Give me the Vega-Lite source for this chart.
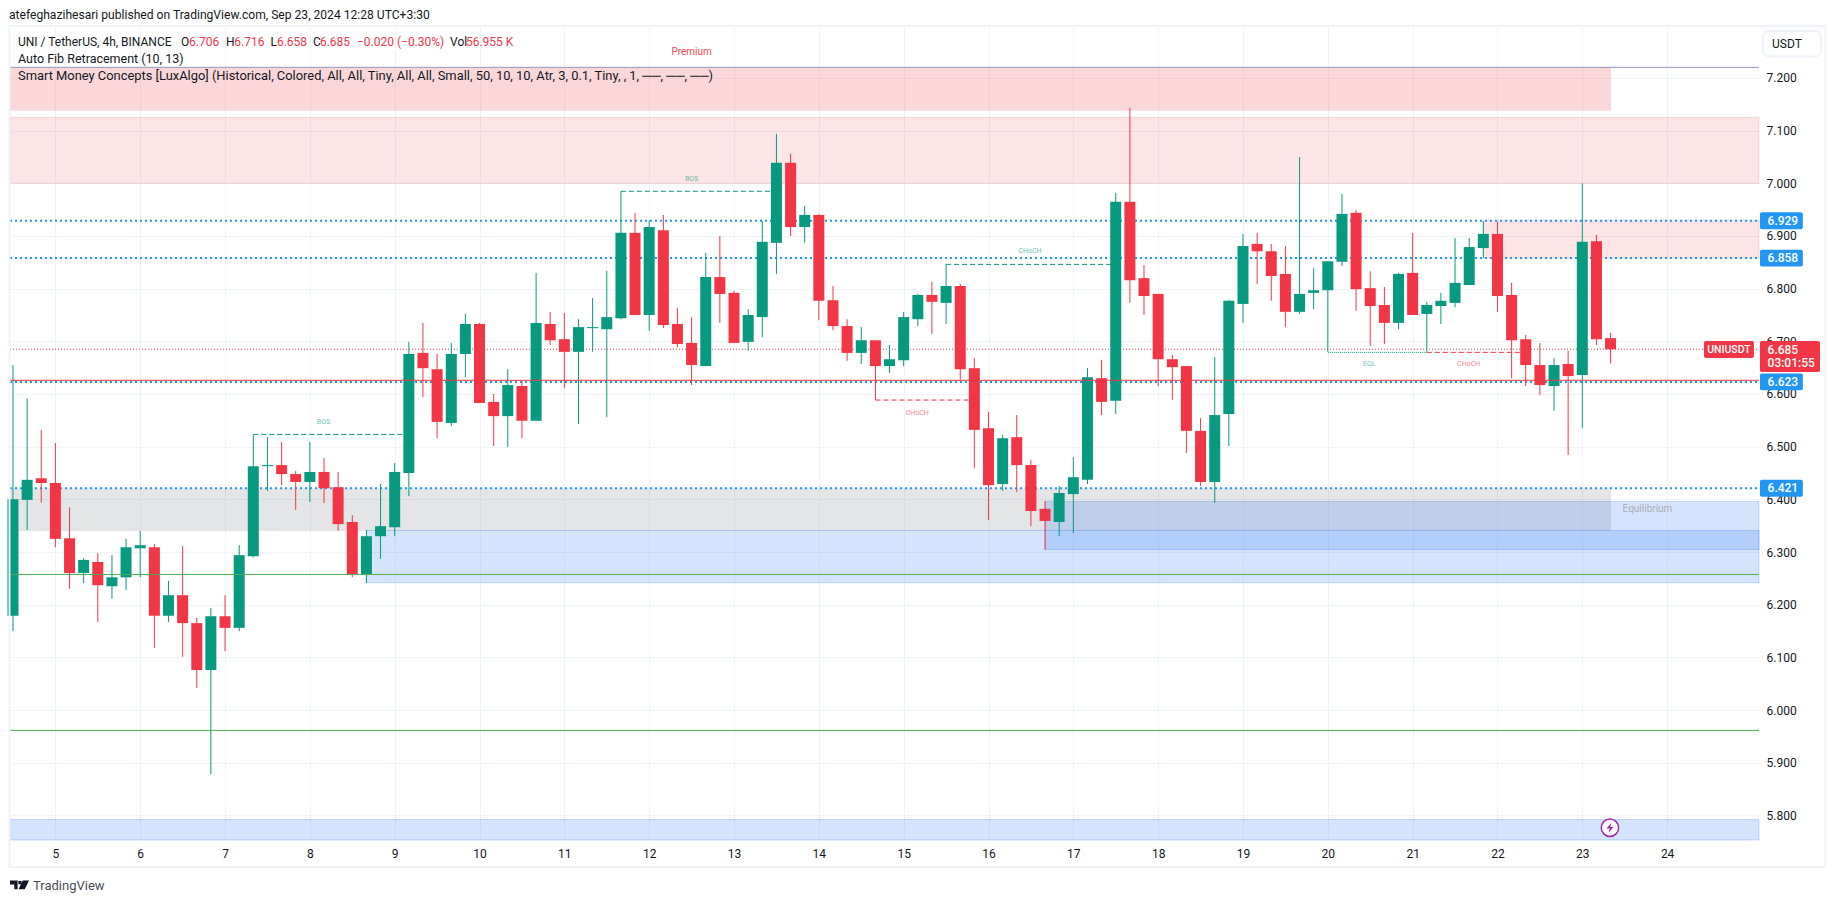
{"$schema":"https://vega.github.io/schema/vega-lite/v6.json","width":1749,"height":813,"autosize":{"type":"none"},"padding":{"left":10,"top":27,"right":76,"bottom":63},"background":"#ffffff","config":{"view":{"stroke":null},"font":"Roboto"},
"resolve":{"scale":{"color":"independent","fill":"independent","stroke":"independent"}},
"datasets":{
"candles":[
{"t":4.5,"o":6.179,"h":6.655,"l":6.15,"c":6.4,"side":"up"},{"t":4.667,"o":6.399,"h":6.592,"l":6.342,"c":6.437,"side":"up"},{"t":4.833,"o":6.44,"h":6.532,"l":6.394,"c":6.431,"side":"down"},{"t":5,"o":6.431,"h":6.507,"l":6.309,"c":6.325,"side":"down"},{"t":5.167,"o":6.326,"h":6.385,"l":6.23,"c":6.26,"side":"down"},{"t":5.333,"o":6.26,"h":6.288,"l":6.241,"c":6.285,"side":"up"},{"t":5.5,"o":6.281,"h":6.298,"l":6.167,"c":6.237,"side":"down"},{"t":5.667,"o":6.235,"h":6.294,"l":6.211,"c":6.252,"side":"up"},{"t":5.833,"o":6.252,"h":6.325,"l":6.228,"c":6.309,"side":"up"},{"t":6,"o":6.307,"h":6.34,"l":6.252,"c":6.313,"side":"up"},
{"t":6.167,"o":6.309,"h":6.315,"l":6.118,"c":6.179,"side":"down"},{"t":6.333,"o":6.179,"h":6.245,"l":6.167,"c":6.218,"side":"up"},{"t":6.5,"o":6.218,"h":6.311,"l":6.101,"c":6.165,"side":"down"},{"t":6.667,"o":6.165,"h":6.175,"l":6.042,"c":6.076,"side":"down"},{"t":6.833,"o":6.076,"h":6.194,"l":5.878,"c":6.178,"side":"up"},{"t":7,"o":6.178,"h":6.218,"l":6.112,"c":6.156,"side":"down"},{"t":7.167,"o":6.156,"h":6.313,"l":6.15,"c":6.294,"side":"up"},{"t":7.333,"o":6.292,"h":6.523,"l":6.29,"c":6.463,"side":"up"},{"t":7.5,"o":6.463,"h":6.518,"l":6.416,"c":6.465,"side":"up"},{"t":7.667,"o":6.465,"h":6.509,"l":6.427,"c":6.448,"side":"down"},
{"t":7.833,"o":6.448,"h":6.454,"l":6.38,"c":6.433,"side":"down"},{"t":8,"o":6.433,"h":6.509,"l":6.395,"c":6.452,"side":"up"},{"t":8.167,"o":6.452,"h":6.478,"l":6.393,"c":6.421,"side":"down"},{"t":8.333,"o":6.423,"h":6.452,"l":6.34,"c":6.353,"side":"down"},{"t":8.5,"o":6.357,"h":6.37,"l":6.252,"c":6.258,"side":"down"},{"t":8.667,"o":6.258,"h":6.342,"l":6.241,"c":6.33,"side":"up"},{"t":8.833,"o":6.33,"h":6.429,"l":6.287,"c":6.349,"side":"up"},{"t":9,"o":6.347,"h":6.469,"l":6.33,"c":6.452,"side":"up"},{"t":9.167,"o":6.45,"h":6.699,"l":6.406,"c":6.676,"side":"up"},{"t":9.333,"o":6.678,"h":6.735,"l":6.594,"c":6.649,"side":"down"},
{"t":9.5,"o":6.647,"h":6.676,"l":6.516,"c":6.547,"side":"down"},{"t":9.667,"o":6.545,"h":6.697,"l":6.539,"c":6.676,"side":"up"},{"t":9.833,"o":6.676,"h":6.752,"l":6.632,"c":6.733,"side":"up"},{"t":10,"o":6.733,"h":6.735,"l":6.583,"c":6.583,"side":"down"},{"t":10.167,"o":6.585,"h":6.6,"l":6.501,"c":6.558,"side":"down"},{"t":10.333,"o":6.558,"h":6.647,"l":6.499,"c":6.617,"side":"up"},{"t":10.5,"o":6.615,"h":6.625,"l":6.516,"c":6.549,"side":"down"},{"t":10.667,"o":6.549,"h":6.83,"l":6.549,"c":6.735,"side":"up"},{"t":10.833,"o":6.733,"h":6.756,"l":6.693,"c":6.702,"side":"down"},{"t":11,"o":6.704,"h":6.754,"l":6.611,"c":6.68,"side":"down"},
{"t":11.167,"o":6.68,"h":6.742,"l":6.543,"c":6.727,"side":"up"},{"t":11.333,"o":6.725,"h":6.782,"l":6.68,"c":6.727,"side":"up"},{"t":11.5,"o":6.723,"h":6.834,"l":6.556,"c":6.746,"side":"up"},{"t":11.667,"o":6.744,"h":6.985,"l":6.742,"c":6.906,"side":"up"},{"t":11.833,"o":6.906,"h":6.944,"l":6.75,"c":6.75,"side":"down"},{"t":12,"o":6.75,"h":6.93,"l":6.72,"c":6.917,"side":"up"},{"t":12.167,"o":6.911,"h":6.94,"l":6.725,"c":6.731,"side":"down"},{"t":12.333,"o":6.733,"h":6.763,"l":6.689,"c":6.695,"side":"down"},{"t":12.5,"o":6.697,"h":6.746,"l":6.617,"c":6.655,"side":"down"},{"t":12.667,"o":6.653,"h":6.868,"l":6.653,"c":6.822,"side":"up"},
{"t":12.833,"o":6.822,"h":6.9,"l":6.735,"c":6.79,"side":"down"},{"t":13,"o":6.792,"h":6.796,"l":6.697,"c":6.697,"side":"down"},{"t":13.167,"o":6.699,"h":6.761,"l":6.682,"c":6.75,"side":"up"},{"t":13.333,"o":6.746,"h":6.928,"l":6.708,"c":6.889,"side":"up"},{"t":13.5,"o":6.887,"h":7.094,"l":6.828,"c":7.039,"side":"up"},{"t":13.667,"o":7.039,"h":7.056,"l":6.9,"c":6.917,"side":"down"},{"t":13.833,"o":6.917,"h":6.957,"l":6.887,"c":6.94,"side":"up"},{"t":14,"o":6.94,"h":6.942,"l":6.74,"c":6.777,"side":"down"},{"t":14.167,"o":6.778,"h":6.805,"l":6.721,"c":6.729,"side":"down"},{"t":14.333,"o":6.729,"h":6.742,"l":6.663,"c":6.678,"side":"down"},
{"t":14.5,"o":6.678,"h":6.727,"l":6.657,"c":6.702,"side":"up"},{"t":14.667,"o":6.702,"h":6.702,"l":6.589,"c":6.653,"side":"down"},{"t":14.833,"o":6.653,"h":6.693,"l":6.64,"c":6.666,"side":"up"},{"t":15,"o":6.664,"h":6.756,"l":6.653,"c":6.746,"side":"up"},{"t":15.167,"o":6.742,"h":6.79,"l":6.729,"c":6.788,"side":"up"},{"t":15.333,"o":6.788,"h":6.813,"l":6.714,"c":6.775,"side":"down"},{"t":15.5,"o":6.773,"h":6.847,"l":6.733,"c":6.805,"side":"up"},{"t":15.667,"o":6.805,"h":6.809,"l":6.627,"c":6.647,"side":"down"},{"t":15.833,"o":6.649,"h":6.668,"l":6.459,"c":6.532,"side":"down"},{"t":16,"o":6.535,"h":6.566,"l":6.361,"c":6.427,"side":"down"},
{"t":16.167,"o":6.429,"h":6.522,"l":6.416,"c":6.516,"side":"up"},{"t":16.333,"o":6.518,"h":6.56,"l":6.414,"c":6.465,"side":"down"},{"t":16.5,"o":6.465,"h":6.475,"l":6.349,"c":6.378,"side":"down"},{"t":16.667,"o":6.382,"h":6.397,"l":6.304,"c":6.359,"side":"down"},{"t":16.833,"o":6.357,"h":6.425,"l":6.33,"c":6.412,"side":"up"},{"t":17,"o":6.41,"h":6.48,"l":6.336,"c":6.442,"side":"up"},{"t":17.167,"o":6.437,"h":6.649,"l":6.429,"c":6.632,"side":"up"},{"t":17.333,"o":6.63,"h":6.665,"l":6.56,"c":6.585,"side":"down"},{"t":17.5,"o":6.587,"h":6.982,"l":6.562,"c":6.965,"side":"up"},{"t":17.667,"o":6.965,"h":7.143,"l":6.773,"c":6.816,"side":"down"},
{"t":17.833,"o":6.82,"h":6.845,"l":6.75,"c":6.786,"side":"down"},{"t":18,"o":6.79,"h":6.79,"l":6.615,"c":6.666,"side":"down"},{"t":18.167,"o":6.666,"h":6.674,"l":6.589,"c":6.651,"side":"down"},{"t":18.333,"o":6.653,"h":6.653,"l":6.488,"c":6.53,"side":"down"},{"t":18.5,"o":6.53,"h":6.554,"l":6.425,"c":6.433,"side":"down"},{"t":18.667,"o":6.433,"h":6.67,"l":6.393,"c":6.56,"side":"up"},{"t":18.833,"o":6.562,"h":6.778,"l":6.501,"c":6.777,"side":"up"},{"t":19,"o":6.771,"h":6.904,"l":6.735,"c":6.881,"side":"up"},{"t":19.167,"o":6.885,"h":6.906,"l":6.809,"c":6.871,"side":"down"},{"t":19.333,"o":6.871,"h":6.885,"l":6.777,"c":6.824,"side":"down"},
{"t":19.5,"o":6.828,"h":6.881,"l":6.727,"c":6.756,"side":"down"},{"t":19.667,"o":6.756,"h":7.05,"l":6.752,"c":6.79,"side":"up"},{"t":19.833,"o":6.792,"h":6.839,"l":6.761,"c":6.797,"side":"up"},{"t":20,"o":6.797,"h":6.852,"l":6.68,"c":6.852,"side":"up"},{"t":20.167,"o":6.851,"h":6.98,"l":6.843,"c":6.942,"side":"up"},{"t":20.333,"o":6.944,"h":6.949,"l":6.758,"c":6.799,"side":"down"},{"t":20.5,"o":6.801,"h":6.833,"l":6.691,"c":6.767,"side":"down"},{"t":20.667,"o":6.769,"h":6.803,"l":6.695,"c":6.735,"side":"down"},{"t":20.833,"o":6.735,"h":6.83,"l":6.723,"c":6.828,"side":"up"},{"t":21,"o":6.83,"h":6.906,"l":6.75,"c":6.75,"side":"down"},
{"t":21.167,"o":6.752,"h":6.775,"l":6.68,"c":6.769,"side":"up"},{"t":21.333,"o":6.767,"h":6.792,"l":6.733,"c":6.777,"side":"up"},{"t":21.5,"o":6.773,"h":6.896,"l":6.765,"c":6.811,"side":"up"},{"t":21.667,"o":6.807,"h":6.896,"l":6.807,"c":6.879,"side":"up"},{"t":21.833,"o":6.877,"h":6.928,"l":6.858,"c":6.904,"side":"up"},{"t":22,"o":6.904,"h":6.927,"l":6.756,"c":6.786,"side":"down"},{"t":22.167,"o":6.788,"h":6.811,"l":6.63,"c":6.702,"side":"down"},{"t":22.333,"o":6.704,"h":6.712,"l":6.615,"c":6.655,"side":"down"},{"t":22.5,"o":6.655,"h":6.697,"l":6.598,"c":6.617,"side":"down"},{"t":22.667,"o":6.615,"h":6.668,"l":6.568,"c":6.655,"side":"up"},
{"t":22.833,"o":6.657,"h":6.682,"l":6.484,"c":6.634,"side":"down"},{"t":23,"o":6.636,"h":7,"l":6.535,"c":6.889,"side":"up"},{"t":23.167,"o":6.89,"h":6.902,"l":6.693,"c":6.704,"side":"down"},{"t":23.333,"o":6.706,"h":6.716,"l":6.658,"c":6.685,"side":"down"}
],
"zones":[
{"t":4.465,"t2":23.338,"p":7.2202,"p2":7.1378,"zone":"premium"},
{"t":4.465,"t2":23.338,"p":6.421,"p2":6.3397,"zone":"equilibrium"},
{"t":4.465,"t2":25.083,"p":7.1253,"p2":7,"zone":"supply"},
{"t":21.833,"t2":25.083,"p":6.929,"p2":6.858,"zone":"supply"},
{"t":8.667,"t2":25.083,"p":6.341,"p2":6.2416,"zone":"demand"},
{"t":16.667,"t2":25.083,"p":6.396,"p2":6.3044,"zone":"demand"},
{"t":4.465,"t2":25.083,"p":5.792,"p2":5.7532,"zone":"demand"}
],
"bluedots":[{"t":4.465,"t2":25.083,"p":6.929},{"t":4.465,"t2":25.083,"p":6.858},{"t":4.465,"t2":25.083,"p":6.623},{"t":4.465,"t2":25.083,"p":6.421}],
"pricedots":[{"t":4.465,"t2":25.083,"p":6.685}],
"solid":[{"t":4.465,"t2":25.083,"p":7.2202,"line":"fib"},{"t":4.465,"t2":25.083,"p":6.626,"line":"red"},{"t":4.465,"t2":25.083,"p":6.2574,"line":"green"},{"t":4.465,"t2":25.083,"p":5.9613,"line":"green"}],
"structure":[
{"t":7.333,"t2":9.167,"p":6.5233,"dir":"bull"},{"t":11.667,"t2":13.5,"p":6.9848,"dir":"bull"},{"t":15.5,"t2":17.5,"p":6.8461,"dir":"bull"},{"t":14.667,"t2":15.833,"p":6.5885,"dir":"bear"},{"t":21.167,"t2":22.333,"p":6.679,"dir":"bear"}
],
"eql":[{"t":20,"t2":21.167,"p":6.679}],
"smc":[
{"t":8.16,"p":6.546,"label":"BOS","dir":"bull"},{"t":12.5,"p":7.009,"label":"BOS","dir":"bull"},{"t":16.49,"p":6.871,"label":"CHoCH","dir":"bull"},{"t":15.16,"p":6.564,"label":"CHoCH","dir":"bear"},{"t":20.49,"p":6.6575,"label":"EQL","dir":"bull"},{"t":21.66,"p":6.6575,"label":"CHoCH","dir":"bear"}
],
"fibnames":[{"t":12.5,"p":7.25,"label":"Premium","dir":"bear"},{"t":23.768,"p":6.381,"label":"Equilibrium","dir":"gray"}],
"title":[{"t":4.453,"p":7.3195,"label":"atefeghazihesari published on TradingView.com, Sep 23, 2024 12:28 UTC+3:30"}],
"header":[
{"t":4.559,"p":7.2689,"label":"UNI / TetherUS, 4h, BINANCE","tone":"ink"},
{"t":6.481,"p":7.2689,"label":"O","tone":"ink"},{"t":6.575,"p":7.2689,"label":"6.706","tone":"red"},
{"t":7.011,"p":7.2689,"label":"H","tone":"ink"},{"t":7.11,"p":7.2689,"label":"6.716","tone":"red"},
{"t":7.536,"p":7.2689,"label":"L","tone":"ink"},{"t":7.612,"p":7.2689,"label":"6.658","tone":"red"},
{"t":8.037,"p":7.2689,"label":"C","tone":"ink"},{"t":8.119,"p":7.2689,"label":"6.685","tone":"red"},
{"t":8.555,"p":7.2689,"label":"−0.020 (−0.30%)","tone":"red"},
{"t":9.652,"p":7.2689,"label":"Vol","tone":"ink"},{"t":9.84,"p":7.2689,"label":"56.955 K","tone":"red"},
{"t":25.237,"p":7.2645,"label":"USDT","tone":"ink"}
],
"legend2":[{"t":4.559,"p":7.2366,"label":"Auto Fib Retracement (10, 13)"}],
"legend3":[{"t":4.559,"p":7.2043,"label":"Smart Money Concepts [LuxAlgo] (Historical, Colored, All, All, Tiny, All, All, Small, 50, 10, 10, Atr, 3, 0.1, Tiny, , 1, ──, ──, ──)"}],
"frame":[{"t":4.459,"t2":25.866,"p":7.2987,"p2":5.7018}],
"button":[{"t":25.13,"t2":25.814,"p":7.2892,"p2":7.2408}],
"badges":[
{"t":25.094,"t2":25.6,"p":6.9451,"p2":6.9129,"badge":"level"},{"t":25.094,"t2":25.6,"p":6.8741,"p2":6.8419,"badge":"level"},{"t":25.094,"t2":25.6,"p":6.6391,"p2":6.6069,"badge":"level"},{"t":25.094,"t2":25.6,"p":6.4371,"p2":6.4049,"badge":"level"},
{"t":25.094,"t2":25.802,"p":6.7006,"p2":6.6417,"badge":"price"},{"t":24.434,"t2":25.023,"p":6.7006,"p2":6.6683,"badge":"price"}
],
"badgetext":[
{"t":25.184,"p":6.929,"label":"6.929"},{"t":25.184,"p":6.858,"label":"6.858"},{"t":25.184,"p":6.623,"label":"6.623"},{"t":25.184,"p":6.421,"label":"6.421"},{"t":25.184,"p":6.684,"label":"6.685"},{"t":25.184,"p":6.658,"label":"03:01:55"}
],
"symbol":[{"t":24.729,"p":6.684,"label":"UNIUSDT"}],
"footer":[{"t":4.736,"p":5.666,"label":"TradingView"}],
"logo":[{"t":4.577,"p":5.668}],
"alert":[{"t":23.326,"p":5.7765}]
},
"encoding":{
"x":{"field":"t","type":"quantitative","title":null,"scale":{"domain":[4.465,25.083],"nice":false,"zero":false,"padding":0},"axis":{"values":[5,6,7,8,9,10,11,12,13,14,15,16,17,18,19,20,21,22,23,24],"format":"d","orient":"bottom","domain":false,"ticks":false,"grid":true,"gridColor":"#f0f3fa","gridWidth":1,"labelColor":"#131722","labelFontSize":12,"labelFont":"Roboto","labelPadding":8,"labelOverlap":false,"labelFlush":false,"labelBound":false}},
"y":{"field":"p","type":"quantitative","title":null,"scale":{"domain":[5.7532,7.2968],"nice":false,"zero":false,"padding":0},"axis":{"values":[5.8,5.9,6,6.1,6.2,6.3,6.4,6.5,6.6,6.7,6.8,6.9,7,7.1,7.2],"format":".3f","orient":"right","domain":false,"ticks":false,"grid":true,"gridColor":"#f0f3fa","gridWidth":1,"labelColor":"#131722","labelFontSize":12,"labelFont":"Roboto","labelPadding":7,"labelOverlap":false,"labelFlush":false,"labelBound":false}}
},
"layer":[
{"data":{"name":"zones"},"mark":{"type":"rect","strokeWidth":1},"encoding":{"x2":{"field":"t2"},"y2":{"field":"p2"},"fill":{"field":"zone","type":"nominal","legend":null,"scale":{"domain":["premium","equilibrium","supply","demand"],"range":["rgba(242,54,69,0.2)","rgba(120,123,134,0.2)","rgba(242,54,69,0.13)","rgba(33,110,245,0.19)"]}},"stroke":{"field":"zone","type":"nominal","legend":null,"scale":{"domain":["premium","equilibrium","supply","demand"],"range":["rgba(0,0,0,0)","rgba(0,0,0,0)","rgba(200,100,100,0.2)","rgba(33,110,245,0.22)"]}}}},
{"data":{"name":"bluedots"},"mark":{"type":"rule","color":"#2196f3","strokeWidth":2,"strokeDash":[2,3]},"encoding":{"x2":{"field":"t2"}}},
{"data":{"name":"pricedots"},"mark":{"type":"rule","color":"#f23645","strokeWidth":1,"strokeDash":[1,2]},"encoding":{"x2":{"field":"t2"}}},
{"data":{"name":"structure"},"mark":{"type":"rule","strokeWidth":1,"strokeDash":[5,3]},"encoding":{"x2":{"field":"t2"},"color":{"field":"dir","type":"nominal","legend":null,"scale":{"domain":["bull","bear"],"range":["#089981","#f23645"]}}}},
{"data":{"name":"eql"},"mark":{"type":"rule","strokeWidth":1,"strokeDash":[1,1],"color":"#089981"},"encoding":{"x2":{"field":"t2"}}},
{"data":{"name":"candles"},"mark":{"type":"rule","strokeWidth":1},"encoding":{"y":{"field":"h","type":"quantitative","title":null,"scale":{"domain":[5.7532,7.2968],"nice":false,"zero":false,"padding":0}},"y2":{"field":"l"},"color":{"field":"side","type":"nominal","legend":null,"scale":{"domain":["up","down"],"range":["#089981","#f23645"]}}}},
{"data":{"name":"candles"},"mark":{"type":"bar","size":11,"orient":"vertical"},"encoding":{"y":{"field":"o","type":"quantitative","title":null,"scale":{"domain":[5.7532,7.2968],"nice":false,"zero":false,"padding":0}},"y2":{"field":"c"},"color":{"field":"side","type":"nominal","legend":null,"scale":{"domain":["up","down"],"range":["#089981","#f23645"]}}}},
{"data":{"name":"solid"},"mark":{"type":"rule","strokeWidth":1},"encoding":{"x2":{"field":"t2"},"color":{"field":"line","type":"nominal","legend":null,"scale":{"domain":["fib","red","green"],"range":["#9598c0","#f23645","#4caf50"]}}}},
{"data":{"name":"smc"},"mark":{"type":"text","fontSize":7,"opacity":0.6,"align":"center","baseline":"middle"},"encoding":{"text":{"field":"label"},"color":{"field":"dir","type":"nominal","legend":null,"scale":{"domain":["bull","bear"],"range":["#089981","#f23645"]}}}},
{"data":{"name":"fibnames"},"mark":{"type":"text","fontSize":10,"opacity":0.9,"align":"center","baseline":"middle"},"encoding":{"text":{"field":"label"},"color":{"field":"dir","type":"nominal","legend":null,"scale":{"domain":["bear","gray"],"range":["#f23645","#a8aab2"]}}}},
{"data":{"name":"frame"},"mark":{"type":"rect","fillOpacity":0,"stroke":"#f0f3fa","strokeWidth":2},"encoding":{"x2":{"field":"t2"},"y2":{"field":"p2"}}},
{"data":{"name":"button"},"mark":{"type":"rect","fill":"#ffffff","stroke":"#f0f3fa","strokeWidth":2,"cornerRadius":6},"encoding":{"x2":{"field":"t2"},"y2":{"field":"p2"}}},
{"data":{"name":"title"},"mark":{"type":"text","fontSize":12.1,"align":"left","baseline":"middle","color":"#131722"},"encoding":{"text":{"field":"label"}}},
{"data":{"name":"header"},"mark":{"type":"text","fontSize":12,"align":"left","baseline":"middle"},"encoding":{"text":{"field":"label"},"color":{"field":"tone","type":"nominal","legend":null,"scale":{"domain":["ink","red"],"range":["#131722","#f23645"]}}}},
{"data":{"name":"legend2"},"mark":{"type":"text","fontSize":12.5,"align":"left","baseline":"middle","color":"#131722"},"encoding":{"text":{"field":"label"}}},
{"data":{"name":"legend3"},"mark":{"type":"text","fontSize":12.9,"align":"left","baseline":"middle","color":"#131722"},"encoding":{"text":{"field":"label"}}},
{"data":{"name":"badges"},"mark":{"type":"rect","cornerRadius":2},"encoding":{"x2":{"field":"t2"},"y2":{"field":"p2"},"fill":{"field":"badge","type":"nominal","legend":null,"scale":{"domain":["level","price"],"range":["#2196f3","#f23645"]}}}},
{"data":{"name":"badgetext"},"mark":{"type":"text","fontSize":12,"fontWeight":500,"align":"left","baseline":"middle","color":"#ffffff"},"encoding":{"text":{"field":"label"}}},
{"data":{"name":"symbol"},"mark":{"type":"text","fontSize":10.5,"fontWeight":500,"align":"center","baseline":"middle","color":"#ffffff"},"encoding":{"text":{"field":"label"}}},
{"data":{"name":"footer"},"mark":{"type":"text","fontSize":13,"align":"left","baseline":"middle","color":"#4a4e59"},"encoding":{"text":{"field":"label"}}},
{"data":{"name":"logo"},"mark":{"type":"point","shape":"M-1,-0.47 H-0.2 V0.47 H-0.55 V-0.05 H-1 Z M-0.12,-0.42 H0.22 V-0.06 H-0.12 Z M0.35,-0.47 H1 L0.55,0.47 H-0.1 Z","size":361,"filled":true,"fill":"#131722","opacity":1,"strokeWidth":0}},
{"data":{"name":"alert"},"mark":{"type":"point","shape":"circle","size":300,"filled":true,"fill":"#ffffff","stroke":"#9c27b0","strokeWidth":1.5,"opacity":1}},
{"data":{"name":"alert"},"mark":{"type":"point","shape":"M0.3,-1 L-0.7,0.15 L-0.05,0.15 L-0.3,1 L0.7,-0.15 L0.05,-0.15 Z","size":100,"filled":true,"fill":"#9c27b0","opacity":1,"strokeWidth":0}}
]}
